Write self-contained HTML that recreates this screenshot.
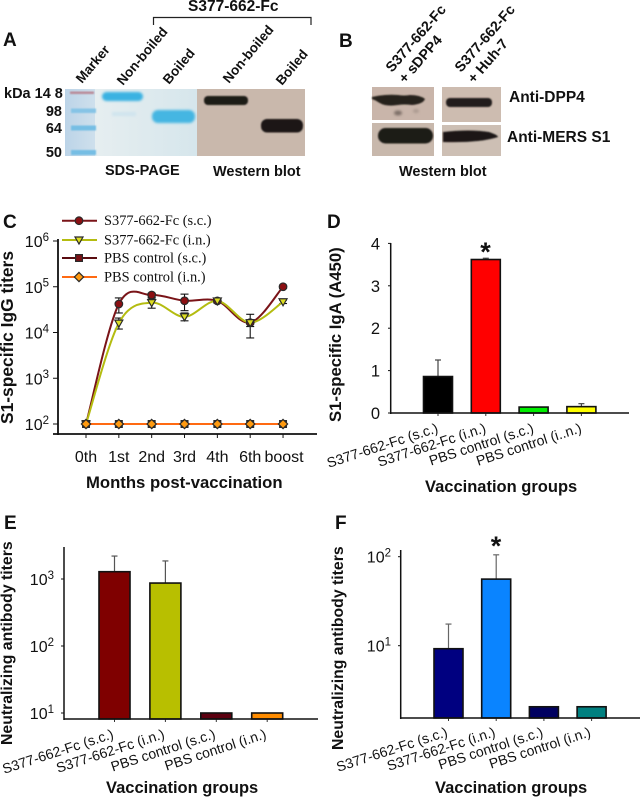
<!DOCTYPE html>
<html lang="en">
<head>
<meta charset="utf-8">
<title>S377-662-Fc figure</title>
<style>
html,body{margin:0;padding:0;background:#fff;width:640px;height:797px;overflow:hidden}
svg{display:block}
text{font-family:"Liberation Sans",sans-serif;fill:#111}
.b{font-weight:bold}
.letter{font-weight:bold;font-size:19px}
.gel{font-weight:bold;font-size:13.5px}
.title{font-weight:bold}
</style>
</head>
<body>
<svg id="fig" width="640" height="797" viewBox="0 0 640 797" xmlns="http://www.w3.org/2000/svg">
<defs>
<filter id="b1" x="-30%" y="-80%" width="160%" height="260%"><feGaussianBlur stdDeviation="1.2"/></filter>
<filter id="b2" x="-30%" y="-80%" width="160%" height="260%"><feGaussianBlur stdDeviation="0.8"/></filter>
<linearGradient id="lane" x1="0" x2="1" y1="0" y2="0"><stop offset="0" stop-color="#bcd4e8"/><stop offset="1" stop-color="#cfe0ec"/></linearGradient>
<linearGradient id="sds" x1="0" x2="1" y1="0" y2="0"><stop offset="0" stop-color="#e6eef0"/><stop offset="1" stop-color="#d6e6ec"/></linearGradient>
</defs>

<!-- Panel A -->
<g>
<text class="letter" x="3" y="46">A</text>
<text class="b" x="188" y="11" font-size="15.5">S377-662-Fc</text>
<path d="M153.5 25V17.5H311V25" fill="none" stroke="#222" stroke-width="1.2"/>
<text class="gel" transform="translate(82,84) rotate(-50)">Marker</text>
<text class="gel" transform="translate(123,86) rotate(-50)">Non-boiled</text>
<text class="gel" transform="translate(169,85) rotate(-50)">Boiled</text>
<text class="gel" transform="translate(229,84) rotate(-50)">Non-boiled</text>
<text class="gel" transform="translate(282,86) rotate(-50)">Boiled</text>
<text class="b" x="4" y="98" font-size="14.5">kDa 14 8</text>
<text class="b" x="62" y="116" font-size="14.5" text-anchor="end">98</text>
<text class="b" x="62" y="133" font-size="14.5" text-anchor="end">64</text>
<text class="b" x="62" y="157" font-size="14.5" text-anchor="end">50</text>
<g>
<rect x="65" y="89" width="31" height="67" fill="url(#lane)"/>
<rect x="95" y="89" width="102" height="67" fill="url(#sds)"/>
<rect x="70" y="91.5" width="24" height="2.5" fill="#b98a98" filter="url(#b2)"/>
<rect x="71" y="108.5" width="25" height="4.5" fill="#86c4e6" filter="url(#b2)"/>
<rect x="71" y="125.5" width="25" height="5" fill="#76bee4" filter="url(#b2)"/>
<rect x="71" y="150" width="25" height="5" fill="#76bee4" filter="url(#b2)"/>
<rect x="102" y="92" width="41" height="9" rx="4.5" fill="#3ab2e2" filter="url(#b1)"/>
<rect x="152" y="110" width="43" height="13" rx="6" fill="#45b6e2" filter="url(#b1)"/>
<rect x="112" y="112" width="24" height="4" fill="#cfe4ee" filter="url(#b1)"/>
</g>
<g>
<rect x="197" y="89" width="108" height="67" fill="#c9b8ac"/>
<rect x="204" y="96" width="44" height="9" rx="4" fill="#1f1a17" filter="url(#b2)"/>
<rect x="261" y="119" width="42" height="13.5" rx="6" fill="#1d1916" filter="url(#b2)"/>
</g>
<text class="b" x="105" y="175" font-size="14.5">SDS-PAGE</text>
<text class="b" x="213" y="176" font-size="14.5">Western blot</text>
</g>

<!-- Panel B -->
<g>
<text class="letter" x="339" y="47">B</text>
<text class="b" font-size="14.3" transform="translate(392,73) rotate(-49)">S377-662-Fc</text>
<text class="b" font-size="14.3" transform="translate(405,84) rotate(-49)">+ sDPP4</text>
<text class="b" font-size="14.3" transform="translate(461,73) rotate(-49)">S377-662-Fc</text>
<text class="b" font-size="14.3" transform="translate(474,84) rotate(-49)">+ Huh-7</text>
<g>
<rect x="372" y="87" width="62" height="33" fill="#c9b5aa"/>
<path d="M372 97Q385 94 398 95Q404 96 410 95Q420 95 425 99Q423 104 412 105Q404 104 398 105Q385 107 378 102Q375 100 372 99Z" fill="#26201c" filter="url(#b2)"/>
<ellipse cx="398" cy="113" rx="4" ry="2.5" fill="#7e6f68" filter="url(#b1)"/>
<ellipse cx="416" cy="111" rx="3" ry="2" fill="#ab9a90" filter="url(#b1)"/>
</g>
<g>
<rect x="372" y="123" width="62" height="33" fill="#c8b8ac"/>
<rect x="378" y="128" width="55" height="15.5" rx="7.5" fill="#1f1a17" filter="url(#b2)"/>
</g>
<g>
<rect x="442" y="87" width="59" height="35" fill="#cdbcb0"/>
<rect x="446" y="98" width="46" height="9" rx="4" fill="#231d1a" filter="url(#b2)"/>
</g>
<g>
<rect x="442" y="125" width="59" height="31" fill="#cdbfb4"/>
<path d="M443 132Q470 129 489 132Q498 135 498 137Q480 143 443 142Z" fill="#1b1714" filter="url(#b2)"/>
</g>
<text class="b" x="509" y="102" font-size="15.5">Anti-DPP4</text>
<text class="b" x="507" y="142" font-size="15.5">Anti-MERS S1</text>
<text class="b" x="399" y="176" font-size="14.5">Western blot</text>
</g>

<text class="letter" x="3" y="228">C</text>
<text class="letter" x="327" y="228">D</text>
<text class="letter" x="4" y="529">E</text>
<text class="letter" x="335" y="529">F</text>

<text class="title" font-size="17.4" transform="translate(13,424) rotate(-90)">S1-specific IgG titers</text>
<text class="title" font-size="16.7" x="86" y="488">Months post-vaccination</text>
<text class="title" font-size="16.7" transform="translate(341,422) rotate(-90)">S1-specific IgA (A450)</text>
<text class="title" font-size="16.5" x="425" y="492">Vaccination groups</text>
<text class="title" font-size="15.8" transform="translate(12,745) rotate(-90)">Neutralizing antibody titers</text>
<text class="title" font-size="16.5" x="106" y="793">Vaccination groups</text>
<text class="title" font-size="15.8" transform="translate(343,750) rotate(-90)">Neutralizing antibody titers</text>
<text class="title" font-size="16.5" x="435" y="793">Vaccination groups</text>
<text class="b" x="485.5" y="261" font-size="27" text-anchor="middle">*</text>
<text class="b" x="496" y="555" font-size="27" text-anchor="middle">*</text>
</svg>

<script>
// Panel C data
const monthLabels = ['0th','1st','2nd','3rd','4th','6th','boost'];
const logTicksC = [2,3,4,5,6];
const seriesNamesC = ['S377-662-Fc (s.c.)','S377-662-Fc (i.n.)','PBS control (s.c.)','PBS control (i.n.)'];
const scValues = [100,42000,66000,49500,49000,16400,100000];
const scHigh = [100,57000,72000,69000,54000,25000,108000];
const scLow = [100,26700,58000,30000,45000,7600,92000];
const inValues = [100,16000,45000,22000,49000,16400,47000];
const inHigh = [100,20700,54000,26700,54000,19000,51000];
const inLow = [100,11900,34000,18000,44000,13500,43000];
const pbsScValues = [100,100,100,100,100,100,100];
const pbsInValues = [100,100,100,100,100,100,100];

// Panel D data
const groupLabelsD = ['S377-662-Fc (s.c.)','S377-662-Fc (i.n.)','PBS control (s.c.)','PBS control (i..n.)'];
const valuesD = [0.86,3.62,0.14,0.15];
const errorTopD = [1.25,3.65,0.14,0.22];
const ticksD = [0,1,2,3,4];

// Panel E data
const groupLabels = ['S377-662-Fc (s.c.)','S377-662-Fc (i.n.)','PBS control (s.c.)','PBS control (i.n.)'];
const valuesE = [1285,870,10,10];
const errorTopE = [2200,1860,10,10];
const logTicksE = [1,2,3];

// Panel F data
const valuesF = [9.25,56,2.06,2.06];
const errorTopF = [17.5,105,2.06,2.06];
const logTicksF = [1,2];

const NS = 'http://www.w3.org/2000/svg';
const fig = document.getElementById('fig');

function mk(tag, attrs, name, parent) {
  const el = document.createElementNS(NS, tag);
  for (const k in attrs) el.setAttribute(k, attrs[k]);
  
  
  (parent || fig).appendChild(el);
  return el;
}
function line(x1, y1, x2, y2, stroke, w, name, parent) {
  return mk('line', {x1:x1, y1:y1, x2:x2, y2:y2, stroke:stroke, 'stroke-width':w}, name, parent);
}
function txt(x, y, s, size, anchor, name, parent, transform) {
  const a = {'font-size':size, 'text-anchor':anchor};
  if (transform) a.transform = transform; else { a.x = x; a.y = y; }
  const t = mk('text', a, name, parent);
  t.textContent = s;
  return t;
}
function powerLabel(x, y, exp, size, name, parent) {
  const t = mk('text', {x:x, y:y, 'font-size':size, 'text-anchor':'end'}, name, parent);
  const base = document.createElementNS(NS, 'tspan');
  base.textContent = '10';
  t.appendChild(base);
  const sup = document.createElementNS(NS, 'tspan');
  sup.setAttribute('dy', -size * 0.38);
  sup.setAttribute('font-size', size * 0.72);
  sup.textContent = exp;
  t.appendChild(sup);
}

// ---------- Panel C ----------
const gC = mk('g', {}, 'chart-c');
const xC = i => 86 + i * 32.84;
const yC = v => 424 - (Math.log10(v) - 2) * 45.75;
function spline(vals) {
  const p = vals.map((v, i) => [xC(i), yC(v)]);
  let d = 'M' + p[0][0] + ' ' + p[0][1];
  for (let i = 0; i < p.length - 1; i++) {
    const a = p[Math.max(i - 1, 0)], b = p[i], c = p[i + 1], e = p[Math.min(i + 2, p.length - 1)];
    const c1x = b[0] + (c[0] - a[0]) / 6, c1y = b[1] + (c[1] - a[1]) / 6;
    const c2x = c[0] - (e[0] - b[0]) / 6, c2y = c[1] - (e[1] - b[1]) / 6;
    d += 'C' + c1x + ' ' + c1y + ' ' + c2x + ' ' + c2y + ' ' + c[0] + ' ' + c[1];
  }
  return d;
}
function errBars(vals, hi, lo, name) {
  vals.forEach((v, i) => {
    if (hi[i] === lo[i] || i === 0) return;
    const x = xC(i);
    line(x, yC(hi[i]), x, yC(lo[i]), '#111', 1.1, name + '-stem', gC);
    line(x - 4, yC(hi[i]), x + 4, yC(hi[i]), '#111', 1.1, name + '-cap-high', gC);
    line(x - 4, yC(lo[i]), x + 4, yC(lo[i]), '#111', 1.1, name + '-cap-low', gC);
  });
}
function marker(kind, x, y, fill, name) {
  const st = {fill:fill, stroke:'#2a2a2a', 'stroke-width':1.2};
  if (kind === 'circle') return mk('circle', Object.assign({cx:x, cy:y, r:3.8}, st), name, gC);
  if (kind === 'square') return mk('rect', Object.assign({x:x - 3.4, y:y - 3.4, width:6.8, height:6.8}, st), name, gC);
  if (kind === 'tri') return mk('polygon', Object.assign({points:[x - 4, y - 3, x + 4, y - 3, x, y + 4].join(',')}, st), name, gC);
  return mk('polygon', Object.assign({points:[x, y - 4.6, x + 4.6, y, x, y + 4.6, x - 4.6, y].join(',')}, st), name, gC);
}
line(58, 239, 58, 435, '#111', 1.8, 'y-axis-c', gC);
line(53, 434, 317, 434, '#111', 1.8, 'x-axis-c', gC);
logTicksC.forEach(t => {
  line(53, yC(Math.pow(10, t)), 58, yC(Math.pow(10, t)), '#111', 1, 'y-tick-c', gC);
  powerLabel(49, yC(Math.pow(10, t)) + 6, t, 16, 'y-tick-label-c', gC);
});
monthLabels.forEach((m, i) => {
  line(xC(i), 434, xC(i), 438, '#111', 1, 'x-tick-c', gC);
  txt(xC(i) + (i === 6 ? 1 : 0), 462, m, 16, 'middle', 'x-tick-label-c', gC);
});
const styleC = [
  {vals:scValues, color:'#7a1418', kind:'circle', fill:'#8b0f12'},
  {vals:inValues, color:'#b4bc10', kind:'tri', fill:'#dede22'},
  {vals:pbsScValues, color:'#5a0c10', kind:'square', fill:'#7a1014'},
  {vals:pbsInValues, color:'#ff6a12', kind:'diamond', fill:'#ff9a10'}
];
errBars(scValues, scHigh, scLow, 'error-bar-sc');
errBars(inValues, inHigh, inLow, 'error-bar-in');
styleC.forEach((s, k) => {
  mk('path', {d:spline(s.vals), fill:'none', stroke:s.color, 'stroke-width':2}, 'line-series-' + (k + 1), gC);
});
styleC.forEach((s, k) => {
  s.vals.forEach((v, i) => {
    if (k === 3) mk('circle', {cx:xC(i), cy:yC(v), r:3.2, fill:'#2a2a2a'}, 'point-outline', gC);
    marker(s.kind, xC(i), yC(v), s.fill, 'point-series-' + (k + 1));
  });
});
seriesNamesC.forEach((n, k) => {
  const y = [220.7, 240, 258, 277][k];
  line(62, y, 97, y, styleC[k].color, 2, 'legend-line-' + (k + 1), gC);
  marker(styleC[k].kind, 79, y, styleC[k].fill, 'legend-marker-' + (k + 1));
  const t = txt(104, y + 4.5, n, 14.4, 'start', 'legend-entry-' + (k + 1), gC);
  t.setAttribute('style', 'font-family:"Liberation Serif",serif');
});

// ---------- Bar charts ----------
function barChart(cfg) {
  const g = mk('g', {}, cfg.name);
  cfg.values.forEach((v, i) => {
    const cx = cfg.x(i), top = cfg.y(v), et = cfg.y(cfg.err[i]);
    if (cfg.err[i] > v) {
      line(cx, et, cx, top, cfg.errColor, 1.2, 'error-stem', g);
      line(cx - 3, et, cx + 3, et, cfg.errColor, 1.2, 'error-cap', g);
    }
    mk('rect', {x:cx - cfg.w / 2, y:top, width:cfg.w, height:cfg.base - top, fill:cfg.colors[i], stroke:'#111', 'stroke-width':1.6}, 'bar-' + (i + 1), g);
    line(cx, cfg.base, cx, cfg.base + 3, '#333', 1, 'x-tick', g);
    txt(0, 0, cfg.labels[i], 14, 'end', 'x-tick-label-' + (i + 1), g,
      'translate(' + (cx + cfg.labelDx) + ',' + cfg.labelY + ') rotate(' + cfg.angle + ')');
  });
  line(cfg.axisX, cfg.axisTop, cfg.axisX, cfg.base + 1, '#111', 1.5, 'y-axis', g);
  line(cfg.axisX, cfg.base, cfg.axisEnd, cfg.base, '#111', 1.5, 'x-axis', g);
  return g;
}

const yD = v => 413 - v * 42.4;
const gD = barChart({name:'chart-d', values:valuesD, err:errorTopD, x:i => 438 + i * 47.8, y:yD, w:29, base:413,
  colors:['#000000','#ff0000','#00ee00','#ffff00'], errColor:'#444', labels:groupLabelsD, labelDx:1, labelY:432, angle:-18,
  axisX:390.7, axisTop:243, axisEnd:629});
ticksD.forEach(t => {
  line(388, yD(t), 391, yD(t), '#111', 1, 'y-tick-d', gD);
  txt(380, yD(t) + 6, t, 16.5, 'end', 'y-tick-label-d', gD);
});

const yE = v => 713 - (Math.log10(v) - 1) * 67;
const gE = barChart({name:'chart-e', values:valuesE, err:errorTopE, x:i => 114.5 + i * 50.9, y:yE, w:31, base:719,
  colors:['#7f0000','#b8bf00','#5c0010','#ff8c00'], errColor:'#555', labels:groupLabels, labelDx:0, labelY:738, angle:-18,
  axisX:64, axisTop:547, axisEnd:318});
logTicksE.forEach(t => {
  line(61, yE(Math.pow(10, t)), 64, yE(Math.pow(10, t)), '#111', 1, 'y-tick-e', gE);
  powerLabel(54, yE(Math.pow(10, t)) + 6, t, 16, 'y-tick-label-e', gE);
});

const yF = v => 645.7 - (Math.log10(v) - 1) * 89;
const gF = barChart({name:'chart-f', values:valuesF, err:errorTopF, x:i => 448.5 + i * 47.7, y:yF, w:29, base:718,
  colors:['#000080','#0a84ff','#000060','#008080'], errColor:'#666', labels:groupLabels, labelDx:0, labelY:736, angle:-18,
  axisX:400.7, axisTop:550, axisEnd:640});
logTicksF.forEach(t => {
  line(398, yF(Math.pow(10, t)), 401, yF(Math.pow(10, t)), '#111', 1, 'y-tick-f', gF);
  powerLabel(391, yF(Math.pow(10, t)) + 6, t, 16, 'y-tick-label-f', gF);
});
</script>
</body>
</html>
